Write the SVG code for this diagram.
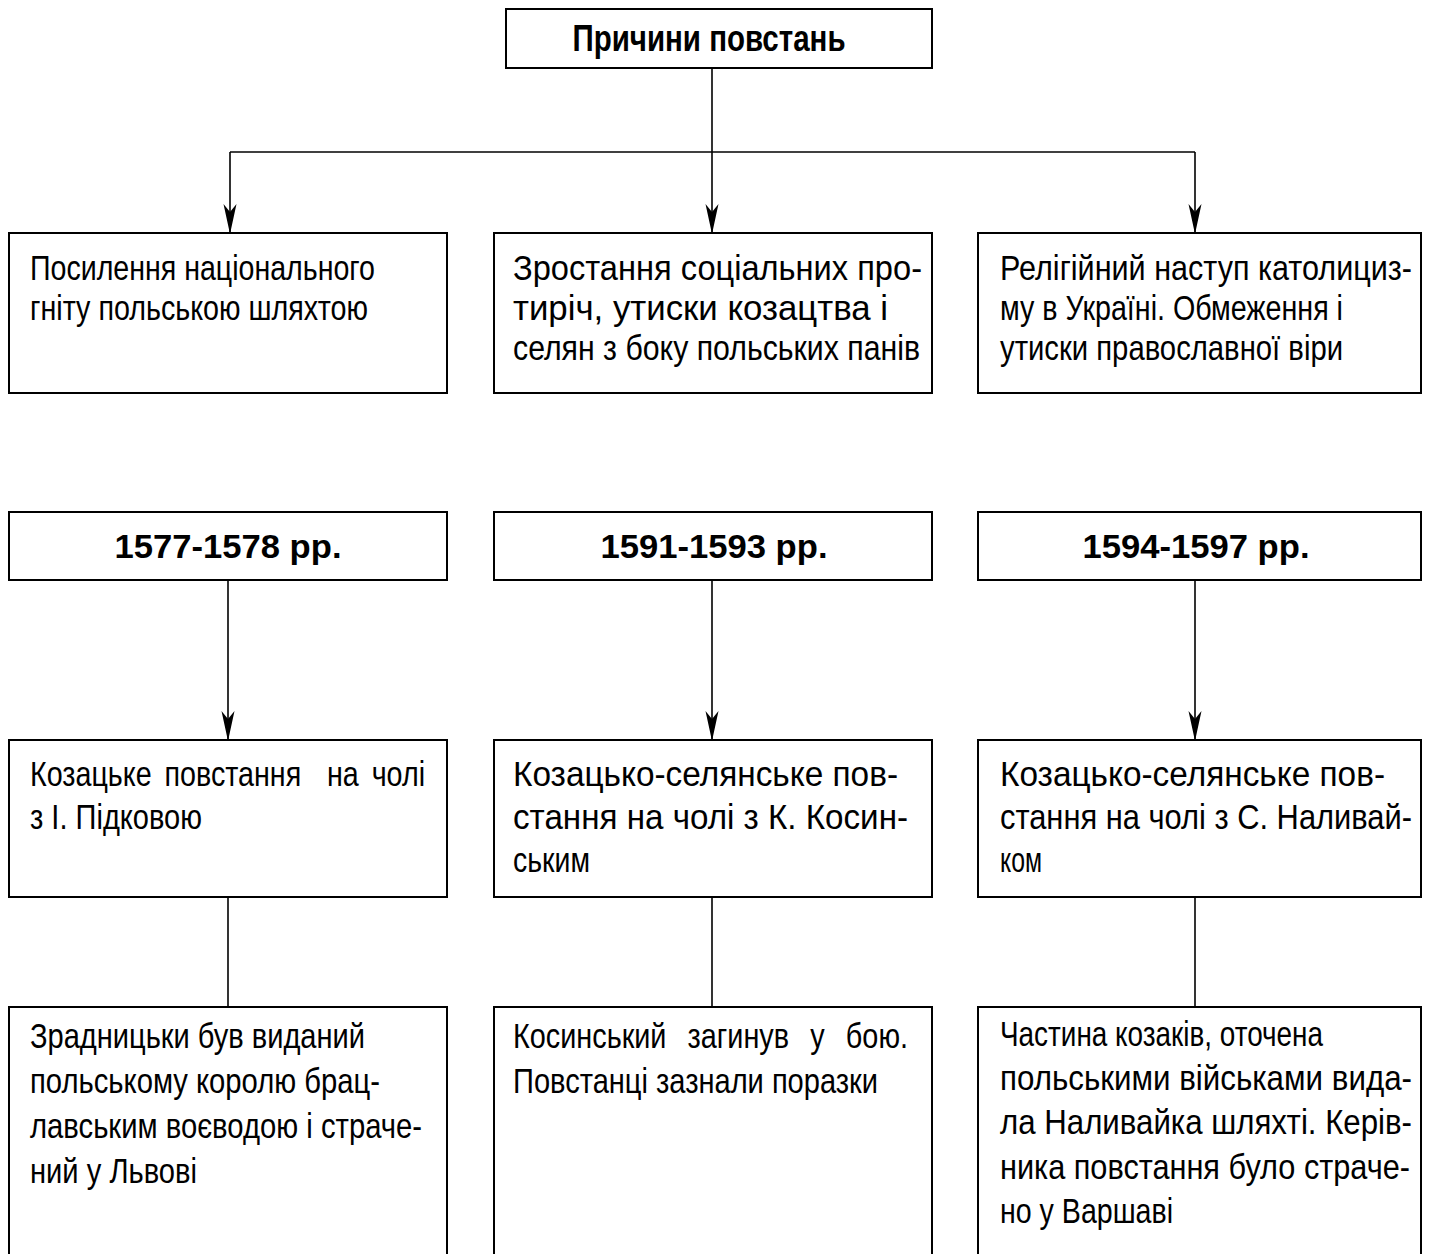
<svg xmlns="http://www.w3.org/2000/svg" width="1430" height="1254" viewBox="0 0 1430 1254">
<defs>
<style>
.box{fill:#fff;stroke:#000;stroke-width:2}
.con{fill:none;stroke:#000;stroke-width:1.6}
.t{font-family:"Liberation Sans Narrow","Liberation Sans",Arial,sans-serif;font-size:35px;fill:#000}
.h{font-family:"Liberation Sans Narrow","Liberation Sans",Arial,sans-serif;font-size:34px;font-weight:bold;fill:#000}
.hh{font-family:"Liberation Sans Narrow","Liberation Sans",Arial,sans-serif;font-size:37px;font-weight:bold;fill:#000}
</style>
<marker id="arr" viewBox="0 0 30 14" refX="29" refY="7" markerWidth="30" markerHeight="14" markerUnits="userSpaceOnUse" orient="auto">
<path d="M30,7 L0,0.5 L8,7 L0,13.5 Z" fill="#000"/>
</marker>
</defs>
<rect width="1430" height="1254" fill="#fff"/>
<g id="connectors">
<line class="con" x1="712" y1="68" x2="712" y2="152"/>
<line class="con" x1="230" y1="152" x2="1195" y2="152"/>
<line class="con" x1="230" y1="152" x2="230" y2="233" marker-end="url(#arr)"/>
<line class="con" x1="712" y1="152" x2="712" y2="233" marker-end="url(#arr)"/>
<line class="con" x1="1195" y1="152" x2="1195" y2="233" marker-end="url(#arr)"/>
<line class="con" x1="228" y1="580" x2="228" y2="740" marker-end="url(#arr)"/>
<line class="con" x1="712" y1="580" x2="712" y2="740" marker-end="url(#arr)"/>
<line class="con" x1="1195" y1="580" x2="1195" y2="740" marker-end="url(#arr)"/>
<line class="con" x1="228" y1="897" x2="228" y2="1007"/>
<line class="con" x1="712" y1="897" x2="712" y2="1007"/>
<line class="con" x1="1195" y1="897" x2="1195" y2="1007"/>
</g>
<g id="n-causes">
<rect class="box" x="506" y="9" width="426" height="59"/>
<text class="hh" x="709" y="51" text-anchor="middle" textLength="273" lengthAdjust="spacingAndGlyphs">Причини повстань</text>
</g>
<g id="n-cause1">
<rect class="box" x="9" y="233" width="438" height="160"/>
<text class="t" x="30" y="280" textLength="345" lengthAdjust="spacingAndGlyphs">Посилення національного</text>
<text class="t" x="30" y="320" textLength="338" lengthAdjust="spacingAndGlyphs">гніту польською шляхтою</text>
</g>
<g id="n-cause2">
<rect class="box" x="494" y="233" width="438" height="160"/>
<text class="t" x="513" y="280" textLength="409" lengthAdjust="spacingAndGlyphs">Зростання соціальних про-</text>
<text class="t" x="513" y="320" textLength="375" lengthAdjust="spacingAndGlyphs">тиріч, утиски козацтва і</text>
<text class="t" x="513" y="360" textLength="407" lengthAdjust="spacingAndGlyphs">селян з боку польських панів</text>
</g>
<g id="n-cause3">
<rect class="box" x="978" y="233" width="443" height="160"/>
<text class="t" x="1000" y="280" textLength="412" lengthAdjust="spacingAndGlyphs">Релігійний наступ католициз-</text>
<text class="t" x="1000" y="320" textLength="343" lengthAdjust="spacingAndGlyphs">му в Україні. Обмеження і</text>
<text class="t" x="1000" y="360" textLength="343" lengthAdjust="spacingAndGlyphs">утиски православної віри</text>
</g>
<g id="n-y1">
<rect class="box" x="9" y="512" width="438" height="68"/>
<text class="h" x="228" y="558" text-anchor="middle" textLength="227" lengthAdjust="spacingAndGlyphs">1577-1578 рр.</text>
</g>
<g id="n-y2">
<rect class="box" x="494" y="512" width="438" height="68"/>
<text class="h" x="714" y="558" text-anchor="middle" textLength="227" lengthAdjust="spacingAndGlyphs">1591-1593 рр.</text>
</g>
<g id="n-y3">
<rect class="box" x="978" y="512" width="443" height="68"/>
<text class="h" x="1196" y="558" text-anchor="middle" textLength="227" lengthAdjust="spacingAndGlyphs">1594-1597 рр.</text>
</g>
<g id="n-r1">
<rect class="box" x="9" y="740" width="438" height="157"/>
<text class="t" x="30" y="786" xml:space="preserve" style="word-spacing:6px" textLength="395" lengthAdjust="spacingAndGlyphs">Козацьке повстання  на чолі</text>
<text class="t" x="30" y="829" textLength="172" lengthAdjust="spacingAndGlyphs">з І. Підковою</text>
</g>
<g id="n-r2">
<rect class="box" x="494" y="740" width="438" height="157"/>
<text class="t" x="513" y="786" textLength="385" lengthAdjust="spacingAndGlyphs">Козацько-селянське пов-</text>
<text class="t" x="513" y="829" textLength="395" lengthAdjust="spacingAndGlyphs">стання на чолі з К. Косин-</text>
<text class="t" x="513" y="872" textLength="77" lengthAdjust="spacingAndGlyphs">ським</text>
</g>
<g id="n-r3">
<rect class="box" x="978" y="740" width="443" height="157"/>
<text class="t" x="1000" y="786" textLength="385" lengthAdjust="spacingAndGlyphs">Козацько-селянське пов-</text>
<text class="t" x="1000" y="829" textLength="412" lengthAdjust="spacingAndGlyphs">стання на чолі з С. Наливай-</text>
<text class="t" x="1000" y="872" textLength="42" lengthAdjust="spacingAndGlyphs">ком</text>
</g>
<g id="n-o1">
<rect class="box" x="9" y="1007" width="438" height="260"/>
<text class="t" x="30" y="1048" textLength="335" lengthAdjust="spacingAndGlyphs">Зрадницьки був виданий</text>
<text class="t" x="30" y="1093" textLength="350" lengthAdjust="spacingAndGlyphs">польському королю брац-</text>
<text class="t" x="30" y="1138" textLength="392" lengthAdjust="spacingAndGlyphs">лавським воєводою і страче-</text>
<text class="t" x="30" y="1183" textLength="167" lengthAdjust="spacingAndGlyphs">ний у Львові</text>
</g>
<g id="n-o2">
<rect class="box" x="494" y="1007" width="438" height="260"/>
<text class="t" x="513" y="1048" style="word-spacing:16px" textLength="395" lengthAdjust="spacingAndGlyphs">Косинський загинув у бою.</text>
<text class="t" x="513" y="1093" textLength="365" lengthAdjust="spacingAndGlyphs">Повстанці зазнали поразки</text>
</g>
<g id="n-o3">
<rect class="box" x="978" y="1007" width="443" height="260"/>
<text class="t" x="1000" y="1046" textLength="323" lengthAdjust="spacingAndGlyphs">Частина козаків, оточена</text>
<text class="t" x="1000" y="1090" textLength="412" lengthAdjust="spacingAndGlyphs">польськими військами вида-</text>
<text class="t" x="1000" y="1134" textLength="412" lengthAdjust="spacingAndGlyphs">ла Наливайка шляхті. Керів-</text>
<text class="t" x="1000" y="1179" textLength="410" lengthAdjust="spacingAndGlyphs">ника повстання було страче-</text>
<text class="t" x="1000" y="1223" textLength="173" lengthAdjust="spacingAndGlyphs">но у Варшаві</text>
</g>
</svg>
